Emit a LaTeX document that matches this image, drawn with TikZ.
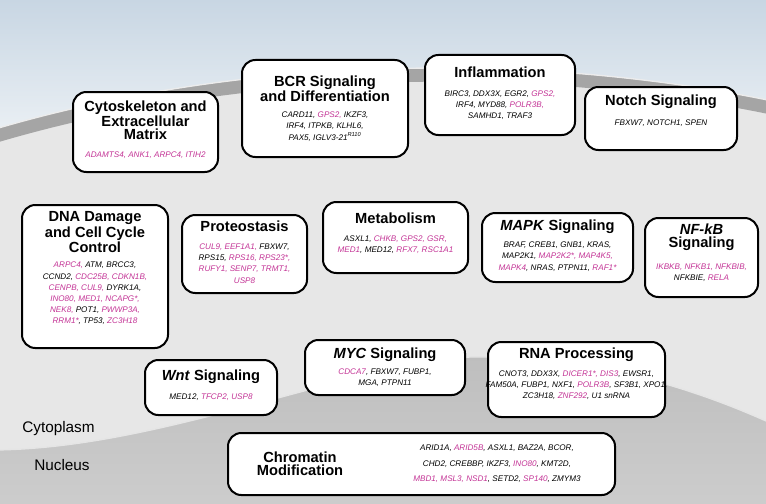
\documentclass[tikz,border=0pt]{standalone}
\usepackage{fontspec}
\setmainfont{Liberation Sans}
\definecolor{mag}{RGB}{196,52,150}
\definecolor{sky1}{RGB}{200,214,227}
\definecolor{sky2}{RGB}{236,241,245}
\definecolor{cyto}{RGB}{231,231,231}
\definecolor{memb}{RGB}{165,165,165}
\definecolor{nucl}{RGB}{190,190,190}
\definecolor{nucl2}{RGB}{205,205,205}
\newcommand\mg[1]{\textcolor{mag}{#1}}
\tikzset{
 box/.style={draw=black, line width=1.5pt, rounded corners=10pt, fill=white},
 ttl/.style={font=\fontsize{11}{9.8}\selectfont\bfseries, align=center, inner sep=0pt},
 gen/.style={font=\fontsize{6.1}{8.4}\selectfont\itshape, align=center, inner sep=0pt, text=black},
 lbl/.style={font=\fontsize{11.5}{13}\selectfont, inner sep=0pt},
}
\newcommand\bx[5]{\node[box, minimum width={#4*0.75pt}, minimum height={#5*0.75pt}] (#1) at (#2,#3) {};}
\begin{document}
\begin{tikzpicture}[x=0.75pt,y=-0.75pt]
\useasboundingbox (0,0) rectangle (766,503);
\begin{scope}
\clip (0,0) rectangle (766,503);
% sky
\shade[top color=sky1, bottom color=sky2] (0,0) rectangle (766,140);
% cytoplasm
\fill[cyto] (440,565) ellipse [x radius=689.25pt, y radius=367.5pt];
% membrane
\draw[memb, line width=10pt] (440,565) ellipse [x radius=689.25pt, y radius=367.5pt];
\draw[white!85!gray, line width=1pt] (440,565) ellipse [x radius=694.5pt, y radius=372.75pt];
% nucleus
\shade[top color=nucl, bottom color=nucl2]
  (-5,450) .. controls (160,448) and (330,370) .. (470,357)
  .. controls (610,355) and (720,400) .. (775,425) -- (775,510) -- (-5,510) -- cycle;
\draw[white!80!gray, line width=1pt]
  (-5,450) .. controls (160,448) and (330,370) .. (470,357)
  .. controls (610,355) and (720,400) .. (775,425);
\end{scope}

\node[lbl, anchor=west] (cyt) at (22,429) {Cytoplasm};
\node[lbl, anchor=west] (nuc) at (34,465) {Nucleus};

% 1 Cytoskeleton
\bx{b1}{145.5}{132}{145}{80}
\node[ttl] (t1) at (145.5,120) {Cytoskeleton and\\Extracellular\\Matrix};
\node[gen] (g1) at (145.5,155) {\mg{ADAMTS4, ANK1, ARPC4, ITIH2}};
% 2 BCR
\bx{b2}{325}{108.5}{166}{97}
\node[ttl] (t2) at (325,88.5) {BCR Signaling\\and Differentiation};
\node[gen] (g2) at (325,126.5) {CARD11, \mg{GPS2,} IKZF3,\\IRF4, ITPKB, KLHL6,\\PAX5, IGLV3-21\textsuperscript{R110}};
% 3 Inflammation
\bx{b3}{500}{95}{150}{80}
\node[ttl] (t3) at (500,72) {Inflammation};
\node[gen] (g3) at (500,105) {BIRC3, DDX3X, EGR2, \mg{GPS2,}\\IRF4, MYD88, \mg{POLR3B,}\\SAMHD1, TRAF3};
% 4 Notch
\bx{b4}{661}{118.5}{152}{63}
\node[ttl] (t4) at (661,102) {Notch Signaling};
\node[gen] (g4) at (661,123) {FBXW7, NOTCH1, SPEN};
% 5 DNA
\bx{b5}{95}{276.5}{146}{143}
\node[ttl] (t5) at (95,232) {DNA Damage\\and Cell Cycle\\Control};
\node[gen] (g5) at (95,293.5) {\mg{ARPC4,} ATM, BRCC3,\\CCND2, \mg{CDC25B, CDKN1B,}\\\mg{CENPB, CUL9,} DYRK1A,\\\mg{INO80, MED1, NCAPG*,}\\\mg{NEK8,} POT1, \mg{PWWP3A,}\\\mg{RRM1*}, TP53, \mg{ZC3H18}};
% 6 Proteostasis
\bx{b6}{244.5}{254}{125}{78}
\node[ttl] (t6) at (244.5,226) {Proteostasis};
\node[gen] (g6) at (244.5,263.5) {\mg{CUL9, EEF1A1,} FBXW7,\\RPS15, \mg{RPS16, RPS23*,}\\\mg{RUFY1, SENP7, TRMT1,}\\\mg{USP8}};
% 7 Metabolism
\bx{b7}{395.5}{237.5}{145}{71}
\node[ttl] (t7) at (395.5,218) {Metabolism};
\node[gen] (g7) at (395.5,244.5) {ASXL1, \mg{CHKB, GPS2, GSR,}\\\mg{MED1}, MED12, \mg{RFX7, RSC1A1}};
% 8 MAPK
\bx{b8}{557.5}{247.5}{151}{69}
\node[ttl] (t8) at (557.5,227) {\textit{MAPK} Signaling};
\node[gen] (g8) at (557.5,256.5) {BRAF, CREB1, GNB1, KRAS,\\MAP2K1, \mg{MAP2K2*, MAP4K5,}\\\mg{MAPK4}, NRAS, PTPN11, \mg{RAF1*}};
% 9 NF-kB
\bx{b9}{701.5}{257.5}{113}{79}
\node[ttl] (t9) at (701.5,237.5) {\textit{NF-kB}\\Signaling};
\node[gen] (g9) at (701.5,272.5) {\mg{IKBKB, NFKB1, NFKBIB,}\\NFKBIE, \mg{RELA}};
% 10 Wnt
\bx{b10}{211}{387.5}{132}{55}
\node[ttl] (t10) at (211,377) {\textit{Wnt} Signaling};
\node[gen] (g10) at (211,397) {MED12, \mg{TFCP2, USP8}};
% 11 MYC
\bx{b11}{385}{367.5}{160}{55}
\node[ttl] (t11) at (385,355) {\textit{MYC} Signaling};
\node[gen] (g11) at (385,378) {\mg{CDCA7}, FBXW7, FUBP1,\\MGA, PTPN11};
% 12 RNA
\bx{b12}{576.5}{379.5}{177}{75}
\node[ttl] (t12) at (576.5,355) {RNA Processing};
\node[gen] (g12) at (576.5,385) {CNOT3, DDX3X, \mg{DICER1*, DIS3}, EWSR1,\\FAM50A, FUBP1, NXF1, \mg{POLR3B}, SF3B1, XPO1,\\ZC3H18, \mg{ZNF292}, U1 snRNA};
% 13 Chromatin
\bx{b13}{421.5}{464}{387}{62}
\node[ttl] (t13) at (300,464) {Chromatin\\Modification};
\node[gen, font=\fontsize{6.1}{11.5}\selectfont\itshape] (g13) at (497,464) {ARID1A, \mg{ARID5B}, ASXL1, BAZ2A, BCOR,\\CHD2, CREBBP, IKZF3, \mg{INO80}, KMT2D,\\\mg{MBD1, MSL3, NSD1}, SETD2, \mg{SP140}, ZMYM3};
\end{tikzpicture}
\end{document}
